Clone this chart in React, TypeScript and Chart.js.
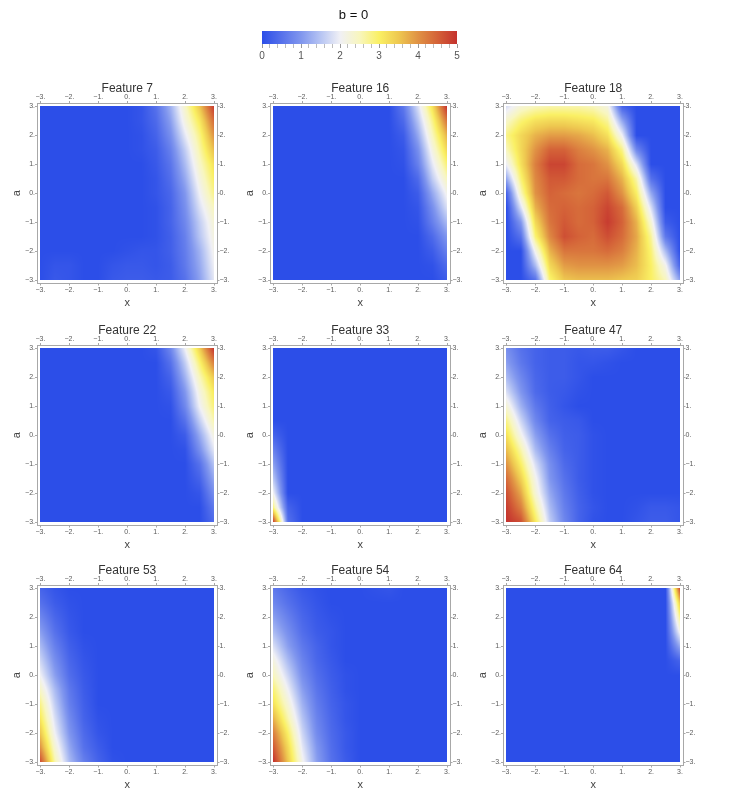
import React, { useEffect, useRef } from 'react';
import { Chart, registerables } from 'chart.js';

Chart.register(...registerables);

const FONT = '"Liberation Sans", Arial, Helvetica, sans-serif';
Chart.defaults.font.family = FONT;

// Sample grid: x runs left to right, a runs top (3) to bottom (-3)
const X_VALUES = [-3, -2.5, -2, -1.5, -1, -0.5, 0, 0.5, 1, 1.5, 2, 2.5, 3];
const A_VALUES = [3, 2.5, 2, 1.5, 1, 0.5, 0, -0.5, -1, -1.5, -2, -2.5, -3];
const AXIS_TICKS = [-3, -2, -1, 0, 1, 2, 3];
const COLORBAR_TICKS = [0, 1, 2, 3, 4, 5];
const COLORBAR_TITLE = 'b = 0';

const FEATURE_TITLES = [
  'Feature 7', 'Feature 16', 'Feature 18',
  'Feature 22', 'Feature 33', 'Feature 47',
  'Feature 53', 'Feature 54', 'Feature 64',
];

const F7 = [
  [0, 0, 0, 0, 0, 0, 0, 0.1, 0.5, 1.3, 2.4, 3.5, 4.9],
  [0, 0, 0, 0, 0, 0, 0, 0.1, 0.4, 1.1, 2.2, 3.1, 4.4],
  [0, 0, 0, 0, 0, 0, 0, 0.05, 0.3, 0.9, 1.9, 2.8, 4.0],
  [0, 0, 0, 0, 0, 0, 0, 0.05, 0.2, 0.7, 1.6, 2.6, 3.6],
  [0, 0, 0, 0, 0, 0, 0, 0, 0.15, 0.55, 1.4, 2.4, 3.2],
  [0, 0, 0, 0, 0, 0, 0, 0, 0.1, 0.45, 1.2, 2.2, 3.0],
  [0, 0, 0, 0, 0, 0, 0, 0, 0.1, 0.35, 1.0, 2.0, 2.8],
  [0, 0, 0, 0, 0, 0, 0, 0, 0.05, 0.3, 0.9, 1.8, 2.5],
  [0, 0, 0, 0, 0, 0, 0, 0, 0.05, 0.3, 0.8, 1.6, 2.3],
  [0, 0, 0, 0, 0, 0, 0, 0, 0.05, 0.25, 0.7, 1.5, 2.2],
  [0, 0, 0, 0, 0, 0, 0.05, 0.1, 0.1, 0.25, 0.65, 1.3, 2.1],
  [0, 0.1, 0.1, 0, 0, 0.1, 0.15, 0.15, 0.1, 0.2, 0.6, 1.2, 2.0],
  [0, 0.15, 0.1, 0, 0, 0.15, 0.2, 0.2, 0.15, 0.2, 0.5, 1.1, 1.9],
];

const F16 = [
  [0, 0, 0, 0, 0, 0, 0, 0, 0, 0.6, 1.8, 3.2, 5.0],
  [0, 0, 0, 0, 0, 0, 0, 0, 0, 0.4, 1.5, 2.8, 4.3],
  [0, 0, 0, 0, 0, 0, 0, 0, 0, 0.2, 1.2, 2.5, 3.7],
  [0, 0, 0, 0, 0, 0, 0, 0, 0, 0.1, 0.9, 2.2, 3.3],
  [0, 0, 0, 0, 0, 0, 0, 0, 0, 0.05, 0.7, 1.9, 2.9],
  [0, 0, 0, 0, 0, 0, 0, 0, 0, 0, 0.4, 1.6, 2.5],
  [0, 0, 0, 0, 0, 0, 0, 0, 0, 0, 0.2, 1.2, 2.1],
  [0, 0, 0, 0, 0, 0, 0, 0, 0, 0, 0.1, 0.9, 1.8],
  [0, 0, 0, 0, 0, 0, 0, 0, 0, 0, 0.05, 0.7, 1.4],
  [0, 0, 0, 0, 0, 0, 0, 0, 0, 0, 0, 0.4, 1.0],
  [0, 0, 0, 0, 0, 0, 0, 0, 0, 0, 0, 0.2, 0.7],
  [0, 0, 0, 0, 0, 0, 0, 0, 0, 0, 0, 0.05, 0.4],
  [0, 0, 0, 0, 0, 0, 0, 0, 0, 0, 0, 0, 0.2],
];

const F18 = [
  [1.8, 2.3, 2.5, 2.6, 2.6, 2.6, 2.5, 2.2, 0.3, 0, 0, 0, 0],
  [2.4, 2.9, 3.2, 3.3, 3.3, 3.2, 3.1, 2.7, 1.2, 0, 0, 0, 0],
  [2.8, 3.3, 3.7, 3.9, 3.9, 3.8, 3.6, 3.2, 2.0, 0, 0, 0, 0],
  [2.5, 3.3, 4.0, 4.5, 4.5, 4.2, 4.0, 3.7, 2.8, 0.8, 0, 0, 0],
  [2.0, 3.2, 4.2, 4.8, 4.8, 4.4, 4.3, 4.0, 3.3, 1.8, 0, 0, 0],
  [1.2, 2.9, 4.1, 4.6, 4.6, 4.4, 4.3, 4.3, 3.7, 2.6, 0.5, 0, 0],
  [0.3, 2.5, 4.0, 4.5, 4.4, 4.3, 4.4, 4.6, 4.0, 3.0, 1.2, 0, 0],
  [0, 1.8, 3.7, 4.4, 4.5, 4.4, 4.5, 4.8, 4.4, 3.4, 1.8, 0, 0],
  [0, 1.0, 3.3, 4.3, 4.6, 4.4, 4.5, 4.9, 4.5, 3.7, 2.3, 0.2, 0],
  [0, 0.5, 2.9, 4.1, 4.7, 4.5, 4.4, 4.7, 4.4, 3.8, 2.7, 0.6, 0],
  [0, 0, 2.1, 3.7, 4.3, 4.3, 4.3, 4.4, 4.2, 3.7, 2.9, 1.4, 0],
  [0, 0, 1.4, 3.3, 3.9, 4.0, 4.0, 4.0, 3.9, 3.6, 3.0, 2.1, 0.3],
  [0, 0, 0.5, 2.9, 3.5, 3.6, 3.6, 3.6, 3.5, 3.4, 3.0, 2.5, 1.1],
];

const F22 = [
  [0, 0, 0, 0, 0, 0, 0, 0, 0.1, 0.8, 2.0, 3.4, 5.0],
  [0, 0, 0, 0, 0, 0, 0, 0, 0, 0.5, 1.6, 2.9, 4.2],
  [0, 0, 0, 0, 0, 0, 0, 0, 0, 0.3, 1.3, 2.5, 3.5],
  [0, 0, 0, 0, 0, 0, 0, 0, 0, 0.15, 1.0, 2.2, 3.1],
  [0, 0, 0, 0, 0, 0, 0, 0, 0, 0.05, 0.8, 2.0, 2.9],
  [0, 0, 0, 0, 0, 0, 0, 0, 0, 0, 0.5, 1.6, 2.6],
  [0, 0, 0, 0, 0, 0, 0, 0, 0, 0, 0.2, 1.2, 2.2],
  [0, 0, 0, 0, 0, 0, 0, 0, 0, 0, 0.05, 0.9, 1.9],
  [0, 0, 0, 0, 0, 0, 0, 0, 0, 0, 0, 0.5, 1.5],
  [0, 0, 0, 0, 0, 0, 0, 0, 0, 0, 0, 0.3, 1.2],
  [0, 0, 0, 0, 0, 0, 0, 0, 0, 0, 0, 0.1, 0.9],
  [0, 0, 0, 0, 0, 0, 0, 0, 0, 0, 0, 0, 0.6],
  [0, 0, 0, 0, 0, 0, 0, 0, 0, 0, 0, 0, 0.4],
];

const F33 = [
  [0, 0, 0, 0, 0, 0, 0, 0, 0, 0, 0, 0, 0],
  [0, 0, 0, 0, 0, 0, 0, 0, 0, 0, 0, 0, 0],
  [0, 0, 0, 0, 0, 0, 0, 0, 0, 0, 0, 0, 0],
  [0, 0, 0, 0, 0, 0, 0, 0, 0, 0, 0, 0, 0],
  [0, 0, 0, 0, 0, 0, 0, 0, 0, 0, 0, 0, 0],
  [0, 0, 0, 0, 0, 0, 0, 0, 0, 0, 0, 0, 0],
  [0.3, 0, 0, 0, 0, 0, 0, 0, 0, 0, 0, 0, 0],
  [0.7, 0, 0, 0, 0, 0, 0, 0, 0, 0, 0, 0, 0],
  [1.1, 0, 0, 0, 0, 0, 0, 0, 0, 0, 0, 0, 0],
  [1.5, 0, 0, 0, 0, 0, 0, 0, 0, 0, 0, 0, 0],
  [2.0, 0, 0, 0, 0, 0, 0, 0, 0, 0, 0, 0, 0],
  [2.8, 0.3, 0, 0, 0, 0, 0, 0, 0, 0, 0, 0, 0],
  [4.8, 0.5, 0, 0, 0, 0, 0, 0, 0, 0, 0, 0, 0],
];

const F47 = [
  [0.9, 0.5, 0.3, 0.2, 0.2, 0.15, 0.2, 0.2, 0.1, 0, 0, 0, 0],
  [1.1, 0.6, 0.3, 0.2, 0.2, 0.1, 0.1, 0.05, 0, 0, 0, 0, 0],
  [1.4, 0.8, 0.35, 0.2, 0.2, 0.1, 0, 0, 0, 0, 0, 0, 0],
  [1.8, 1.0, 0.4, 0.2, 0.15, 0.05, 0, 0, 0, 0, 0, 0, 0],
  [2.3, 1.3, 0.6, 0.25, 0.1, 0, 0, 0, 0, 0, 0, 0, 0],
  [2.8, 1.7, 0.8, 0.3, 0.2, 0.15, 0, 0, 0, 0, 0, 0, 0],
  [3.2, 2.1, 1.1, 0.5, 0.25, 0.2, 0.05, 0, 0, 0, 0, 0, 0],
  [3.6, 2.6, 1.4, 0.7, 0.3, 0.2, 0.05, 0, 0, 0, 0, 0, 0],
  [4.0, 3.0, 1.8, 0.9, 0.4, 0.2, 0.05, 0, 0, 0, 0, 0, 0],
  [4.4, 3.4, 2.1, 1.0, 0.5, 0.2, 0.05, 0, 0, 0, 0, 0, 0],
  [4.7, 3.8, 2.3, 1.2, 0.6, 0.25, 0.05, 0, 0, 0, 0, 0, 0],
  [4.9, 4.2, 2.7, 1.4, 0.7, 0.3, 0.1, 0, 0, 0.05, 0.15, 0.15, 0.1],
  [5.0, 4.7, 3.1, 1.6, 0.8, 0.3, 0.05, 0, 0, 0.1, 0.2, 0.2, 0.1],
];

const F53 = [
  [0.3, 0.1, 0, 0, 0, 0, 0, 0, 0, 0, 0, 0, 0],
  [0.5, 0.2, 0.05, 0, 0, 0, 0, 0, 0, 0, 0, 0, 0],
  [0.8, 0.35, 0.1, 0, 0, 0, 0, 0, 0, 0, 0, 0, 0],
  [1.1, 0.5, 0.15, 0, 0, 0, 0, 0, 0, 0, 0, 0, 0],
  [1.4, 0.7, 0.25, 0.05, 0, 0, 0, 0, 0, 0, 0, 0, 0],
  [1.7, 0.9, 0.35, 0.1, 0, 0, 0, 0, 0, 0, 0, 0, 0],
  [2.0, 1.1, 0.45, 0.15, 0, 0, 0, 0, 0, 0, 0, 0, 0],
  [2.4, 1.4, 0.6, 0.2, 0, 0, 0, 0, 0, 0, 0, 0, 0],
  [2.8, 1.6, 0.7, 0.25, 0, 0, 0, 0, 0, 0, 0, 0, 0],
  [3.1, 1.8, 0.85, 0.3, 0.05, 0, 0, 0, 0, 0, 0, 0, 0],
  [3.5, 2.0, 1.0, 0.4, 0.1, 0, 0, 0, 0, 0, 0, 0, 0],
  [4.0, 2.3, 1.2, 0.5, 0.2, 0, 0, 0, 0, 0, 0, 0, 0],
  [4.7, 2.6, 1.4, 0.7, 0.3, 0.05, 0, 0, 0, 0, 0, 0, 0],
];

const F54 = [
  [0.6, 0.35, 0.15, 0.05, 0, 0, 0, 0.05, 0.1, 0, 0, 0, 0],
  [0.8, 0.5, 0.25, 0.1, 0, 0, 0, 0, 0, 0, 0, 0, 0],
  [1.1, 0.7, 0.35, 0.15, 0.05, 0, 0, 0, 0, 0, 0, 0, 0],
  [1.4, 0.9, 0.45, 0.2, 0.1, 0, 0, 0, 0, 0, 0, 0, 0],
  [1.8, 1.1, 0.6, 0.3, 0.1, 0, 0, 0, 0, 0, 0, 0, 0],
  [2.2, 1.4, 0.75, 0.35, 0.15, 0, 0, 0, 0, 0, 0, 0, 0],
  [2.5, 1.7, 0.9, 0.45, 0.2, 0.05, 0, 0, 0, 0, 0, 0, 0],
  [2.9, 2.0, 1.1, 0.55, 0.25, 0.05, 0, 0, 0, 0, 0, 0, 0],
  [3.2, 2.3, 1.3, 0.65, 0.3, 0.1, 0, 0, 0, 0, 0, 0, 0],
  [3.7, 2.6, 1.5, 0.75, 0.35, 0.1, 0, 0, 0, 0, 0, 0, 0],
  [4.2, 3.0, 1.7, 0.85, 0.4, 0.15, 0, 0, 0, 0, 0, 0, 0],
  [4.6, 3.3, 1.9, 1.0, 0.45, 0.15, 0, 0, 0, 0, 0, 0, 0],
  [5.0, 3.5, 2.1, 1.1, 0.5, 0.2, 0, 0, 0, 0, 0, 0, 0],
];

const F64 = [
  [0, 0, 0, 0, 0, 0, 0, 0, 0, 0, 0, 0, 4.8],
  [0, 0, 0, 0, 0, 0, 0, 0, 0, 0, 0, 0, 3.5],
  [0, 0, 0, 0, 0, 0, 0, 0, 0, 0, 0, 0, 2.8],
  [0, 0, 0, 0, 0, 0, 0, 0, 0, 0, 0, 0, 2.1],
  [0, 0, 0, 0, 0, 0, 0, 0, 0, 0, 0, 0, 1.2],
  [0, 0, 0, 0, 0, 0, 0, 0, 0, 0, 0, 0, 0.3],
  [0, 0, 0, 0, 0, 0, 0, 0, 0, 0, 0, 0, 0],
  [0, 0, 0, 0, 0, 0, 0, 0, 0, 0, 0, 0, 0],
  [0, 0, 0, 0, 0, 0, 0, 0, 0, 0, 0, 0, 0],
  [0, 0, 0, 0, 0, 0, 0, 0, 0, 0, 0, 0, 0],
  [0, 0, 0, 0, 0, 0, 0, 0, 0, 0, 0, 0, 0],
  [0, 0, 0, 0, 0, 0, 0, 0, 0, 0, 0, 0, 0],
  [0, 0, 0, 0, 0, 0, 0, 0, 0, 0, 0, 0, 0],
];

const FEATURE_GRIDS = [F7, F16, F18, F22, F33, F47, F53, F54, F64];

// Temperature-style palette: value -> rgb
const PALETTE: [number, [number, number, number]][] = [
  [0.0, [44, 78, 232]],
  [0.5, [86, 113, 235]],
  [1.0, [128, 150, 238]],
  [1.5, [182, 196, 243]],
  [2.0, [240, 240, 245]],
  [2.5, [248, 246, 190]],
  [3.0, [250, 240, 100]],
  [3.5, [238, 200, 80]],
  [4.0, [224, 146, 68]],
  [4.5, [212, 98, 56]],
  [5.0, [196, 50, 46]],
];

function colorAt(v: number): [number, number, number] {
  if (v <= PALETTE[0][0]) return PALETTE[0][1];
  for (let i = 0; i < PALETTE.length - 1; i++) {
    const [v0, c0] = PALETTE[i];
    const [v1, c1] = PALETTE[i + 1];
    if (v <= v1) {
      const t = (v - v0) / (v1 - v0);
      return [
        c0[0] + (c1[0] - c0[0]) * t,
        c0[1] + (c1[1] - c0[1]) * t,
        c0[2] + (c1[2] - c0[2]) * t,
      ];
    }
  }
  return PALETTE[PALETTE.length - 1][1];
}

// Position of v inside a monotonic list of sample coordinates
function locate(arr: number[], v: number): [number, number] {
  for (let i = 0; i < arr.length - 1; i++) {
    const t = (v - arr[i]) / (arr[i + 1] - arr[i]);
    if (t >= 0 && t <= 1) return [i, t];
  }
  const d0 = Math.abs(v - arr[0]);
  const d1 = Math.abs(v - arr[arr.length - 1]);
  return d0 < d1 ? [0, 0] : [arr.length - 2, 1];
}

function sampleGrid(grid: number[][], x: number, a: number): number {
  const [j, tx] = locate(X_VALUES, x);
  const [i, ta] = locate(A_VALUES, a);
  const v00 = grid[i][j];
  const v01 = grid[i][j + 1];
  const v10 = grid[i + 1][j];
  const v11 = grid[i + 1][j + 1];
  const top = v00 + (v01 - v00) * tx;
  const bot = v10 + (v11 - v10) * tx;
  return top + (bot - top) * ta;
}

// Density layer painted pixel by pixel through the chart's x / y scales
function makeDensityPlugin(grid: number[][]) {
  return {
    id: 'densityLayer',
    beforeDatasetsDraw(chart: any) {
      const xs = chart.scales.x;
      const ys = chart.scales.y;
      const left = Math.round(xs.getPixelForValue(X_VALUES[0]));
      const right = Math.round(xs.getPixelForValue(X_VALUES[X_VALUES.length - 1]));
      const top = Math.round(ys.getPixelForValue(A_VALUES[0]));
      const bottom = Math.round(ys.getPixelForValue(A_VALUES[A_VALUES.length - 1]));
      const w = right - left;
      const h = bottom - top;
      if (w <= 0 || h <= 0) return;
      const off = document.createElement('canvas');
      off.width = w;
      off.height = h;
      const octx = off.getContext('2d')!;
      const img = octx.createImageData(w, h);
      for (let py = 0; py < h; py++) {
        const a = ys.getValueForPixel(top + py + 0.5);
        for (let px = 0; px < w; px++) {
          const x = xs.getValueForPixel(left + px + 0.5);
          const c = colorAt(sampleGrid(grid, x, a));
          const k = (py * w + px) * 4;
          img.data[k] = c[0];
          img.data[k + 1] = c[1];
          img.data[k + 2] = c[2];
          img.data[k + 3] = 255;
        }
      }
      octx.putImageData(img, 0, 0);
      chart.ctx.drawImage(off, left, top);
    },
  };
}

const FRAME_COLOR = '#a8a8a8';
const RANGE_PAD = 0.12;

function tickText(v: number): string {
  return v < 0 ? '\u2212' + Math.abs(v) + '.' : v + '.';
}

function frameAxis(position: string, extra: any) {
  return {
    type: 'linear',
    position,
    min: AXIS_TICKS[0] - RANGE_PAD,
    max: AXIS_TICKS[AXIS_TICKS.length - 1] + RANGE_PAD,
    afterBuildTicks: (s: any) => {
      s.ticks = AXIS_TICKS.map((v) => ({ value: v }));
    },
    ticks: {
      autoSkip: false,
      maxRotation: 0,
      padding: 0,
      color: '#5a5a5a',
      font: { size: 7, family: FONT },
      callback: (v: number) => tickText(v),
    },
    grid: { drawOnChartArea: false, drawTicks: true, tickLength: 2, color: FRAME_COLOR },
    border: { display: true, color: FRAME_COLOR, width: 1 },
    ...extra,
  };
}

const PANEL_W = 232;
const PANEL_H = 240;
const COL_LEFT = [0, 233, 466];
const ROW_TOP = [75, 317, 557];

function Panel({ title, grid, left, top }: { title: string; grid: number[][]; left: number; top: number }) {
  const ref = useRef<HTMLCanvasElement | null>(null);
  useEffect(() => {
    const chart = new Chart(ref.current as HTMLCanvasElement, {
      type: 'scatter',
      data: { datasets: [{ data: [], pointRadius: 0 }] },
      options: {
        responsive: false,
        animation: false,
        devicePixelRatio: 1,
        layout: { padding: 0 },
        plugins: { legend: { display: false }, tooltip: { enabled: false } },
        scales: {
          x: frameAxis('bottom', {
            afterFit: (s: any) => { s.height = 31.5; },
            title: {
              display: true, text: 'x', color: '#444',
              font: { size: 11, family: FONT }, padding: { top: 0, bottom: 5.5 },
            },
          }),
          xTop: frameAxis('top', {
            afterFit: (s: any) => { s.height = 28; },
            title: {
              display: true, text: title, color: '#333',
              font: { size: 12, family: FONT }, padding: { top: 6, bottom: 0 },
            },
          }),
          y: frameAxis('left', {
            afterFit: (s: any) => { s.width = 37; },
            title: {
              display: true, text: 'a', color: '#444',
              font: { size: 11, family: FONT }, padding: { top: 10, bottom: 0 },
            },
          }),
          yRight: frameAxis('right', {
            afterFit: (s: any) => { s.width = 14.5; },
          }),
        },
      } as any,
      plugins: [makeDensityPlugin(grid)],
    });
    return () => chart.destroy();
  }, [title, grid]);
  return (
    <canvas
      ref={ref}
      width={PANEL_W}
      height={PANEL_H}
      style={{ position: 'absolute', left, top, width: PANEL_W, height: PANEL_H }}
    />
  );
}

const colorbarFill = {
  id: 'colorbarFill',
  beforeDatasetsDraw(chart: any) {
    const { ctx, chartArea } = chart;
    const xs = chart.scales.x;
    const lo = COLORBAR_TICKS[0];
    const hi = COLORBAR_TICKS[COLORBAR_TICKS.length - 1];
    const g = ctx.createLinearGradient(xs.getPixelForValue(lo), 0, xs.getPixelForValue(hi), 0);
    PALETTE.forEach(([v, c]) => {
      g.addColorStop((v - lo) / (hi - lo), `rgb(${c[0]},${c[1]},${c[2]})`);
    });
    ctx.save();
    ctx.fillStyle = g;
    ctx.fillRect(chartArea.left, chartArea.top, chartArea.right - chartArea.left, chartArea.bottom - chartArea.top);
    ctx.restore();
  },
};

function isMajor(v: number) {
  return Math.abs(v - Math.round(v)) < 1e-6;
}

function ColorBar() {
  const ref = useRef<HTMLCanvasElement | null>(null);
  useEffect(() => {
    const minor: number[] = [];
    for (let i = 0; i < COLORBAR_TICKS.length - 1; i++) {
      const a = COLORBAR_TICKS[i];
      const b = COLORBAR_TICKS[i + 1];
      for (let k = 0; k < 5; k++) minor.push(a + ((b - a) * k) / 5);
    }
    minor.push(COLORBAR_TICKS[COLORBAR_TICKS.length - 1]);
    const chart = new Chart(ref.current as HTMLCanvasElement, {
      type: 'scatter',
      data: { datasets: [] },
      options: {
        responsive: false,
        animation: false,
        devicePixelRatio: 1,
        layout: { padding: { left: 0, right: 13, top: 0, bottom: 0 } },
        plugins: {
          legend: { display: false },
          tooltip: { enabled: false },
          title: {
            display: true,
            text: COLORBAR_TITLE,
            color: '#111',
            font: { size: 13, family: FONT, weight: 'normal' },
            padding: { top: 7.2, bottom: 8.2 },
          },
        },
        scales: {
          x: {
            type: 'linear',
            position: 'bottom',
            min: COLORBAR_TICKS[0],
            max: COLORBAR_TICKS[COLORBAR_TICKS.length - 1],
            afterBuildTicks: (s: any) => {
              s.ticks = minor.map((v) => ({ value: v }));
            },
            afterFit: (s: any) => { s.height = 26; },
            ticks: {
              autoSkip: false,
              maxRotation: 0,
              padding: 2,
              color: '#555',
              font: { size: 10, family: FONT },
              callback: (v: number) => (isMajor(v) ? String(Math.round(v)) : ''),
            },
            grid: {
              drawOnChartArea: false,
              tickLength: 4,
              color: (c: any) => (c.tick && isMajor(c.tick.value) ? '#999' : '#bbb'),
            },
            border: { display: false },
          },
          y: {
            type: 'linear',
            min: 0,
            max: 1,
            ticks: { display: false },
            grid: { display: false },
            border: { display: false },
            afterFit: (s: any) => { s.width = 12; },
          },
        },
      } as any,
      plugins: [colorbarFill],
    });
    return () => chart.destroy();
  }, []);
  return (
    <canvas
      ref={ref}
      width={220}
      height={70}
      style={{ position: 'absolute', left: 250, top: 0, width: 220, height: 70 }}
    />
  );
}

export default function App() {
  return (
    <div
      style={{
        position: 'absolute',
        left: 0,
        top: 0,
        width: 750,
        height: 794,
        overflow: 'hidden',
        background: '#fff',
      }}
    >
      <ColorBar />
      {FEATURE_TITLES.map((t, i) => (
        <Panel
          key={t}
          title={t}
          grid={FEATURE_GRIDS[i]}
          left={COL_LEFT[i % 3]}
          top={ROW_TOP[Math.floor(i / 3)]}
        />
      ))}
    </div>
  );
}
